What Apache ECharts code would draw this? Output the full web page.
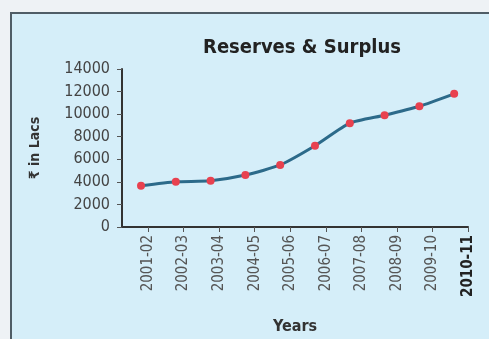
<!DOCTYPE html>
<html>

<head>
    <meta charset="UTF-8">
    <style type="text/css">
        body {
            margin: 0;
            padding: 0;
            overflow: hidden;
            background: #eef2f5;
        }

        #chart {
            width: 489px;
            height: 339px;
            position: absolute;
            left: 0;
            top: 0;
        }
    </style>
</head>

<body>
    <div id="chart"></div>
    <script src="https://cdn.jsdelivr.net/npm/echarts@6/dist/echarts.min.js"></script>
    <script>
        // data
        let YEARS = ['2001-02', '2002-03', '2003-04', '2004-05', '2005-06', '2006-07', '2007-08', '2008-09', '2009-10', '2010-11'];
        let RESERVES = [3650, 4000, 4100, 4600, 5500, 7200, 9200, 9900, 10700, 11800];
        let Y_TICKS = [0, 2000, 4000, 6000, 8000, 10000, 12000, 14000];

        let FONT = '"DejaVu Sans Condensed", "Liberation Sans Narrow", sans-serif';
        let idx = YEARS.map((y, i) => i);

        var myChart = echarts.init(document.getElementById('chart'));

        let option = {
            backgroundColor: '#eef2f5',
            animation: false,
            graphic: [
                {
                    type: 'rect',
                    z: -10,
                    shape: { x: 11, y: 13, width: 490, height: 340 },
                    style: { fill: '#d5eef9', stroke: '#4f5d66', lineWidth: 2 }
                }
            ],
            title: {
                text: 'Reserves & Surplus',
                left: 297,
                textAlign: 'center',
                top: 33,
                textStyle: {
                    fontFamily: FONT,
                    fontSize: 20,
                    fontWeight: 'bold',
                    color: '#222'
                }
            },
            grid: {
                left: 122,
                right: 21,
                top: 69,
                bottom: 112
            },
            xAxis: [
                {
                    type: 'value',
                    min: -0.731,
                    max: 9,
                    splitLine: { show: false },
                    axisLine: { show: true, onZero: false, lineStyle: { color: '#333', width: 2 } },
                    axisTick: {
                        show: true,
                        customValues: idx,
                        length: 5,
                        lineStyle: { color: '#555', width: 1 }
                    },
                    axisLabel: {
                        customValues: idx,
                        rotate: 90,
                        margin: 8,
                        fontFamily: FONT,
                        fontSize: 15,
                        color: '#555',
                        formatter: function (v) {
                            let i = Math.round(v);
                            if (i === YEARS.length - 1) return '{b|' + YEARS[i] + '}';
                            return YEARS[i];
                        },
                        rich: {
                            b: { fontFamily: FONT, fontSize: 15, fontWeight: 'bold', color: '#222' }
                        }
                    },
                    name: 'Years',
                    nameLocation: 'middle',
                    nameGap: 92,
                    nameTextStyle: {
                        fontFamily: FONT,
                        fontSize: 16,
                        fontWeight: 'bold',
                        color: '#333'
                    }
                },
                {
                    // hidden scale the points are placed on
                    type: 'value',
                    min: -0.546,
                    max: 9.397,
                    show: false
                }
            ],
            yAxis: {
                type: 'value',
                min: 0,
                max: 14000,
                interval: 2000,
                splitLine: { show: false },
                axisLine: { show: true, onZero: false, lineStyle: { color: '#333', width: 2 } },
                axisTick: { show: true, length: 5, lineStyle: { color: '#555' } },
                axisLabel: {
                    fontFamily: FONT,
                    fontSize: 16,
                    color: '#444',
                    margin: 12,
                    customValues: Y_TICKS,
                    formatter: function (v) { return String(v); }
                },
                name: '₹ in Lacs',
                nameLocation: 'middle',
                nameRotate: 90,
                nameGap: 80,
                nameTextStyle: {
                    fontFamily: FONT,
                    fontSize: 14,
                    fontWeight: 'bold',
                    color: '#333'
                }
            },
            series: [
                {
                    type: 'line',
                    xAxisIndex: 1,
                    data: RESERVES.map((v, i) => [i, v]),
                    smooth: 0.2,
                    symbol: 'circle',
                    symbolSize: 8,
                    lineStyle: { color: '#2c6a8a', width: 3 },
                    itemStyle: { color: '#e8414f' }
                }
            ]
        };
        myChart.setOption(option);
    </script>
</body>

</html>
